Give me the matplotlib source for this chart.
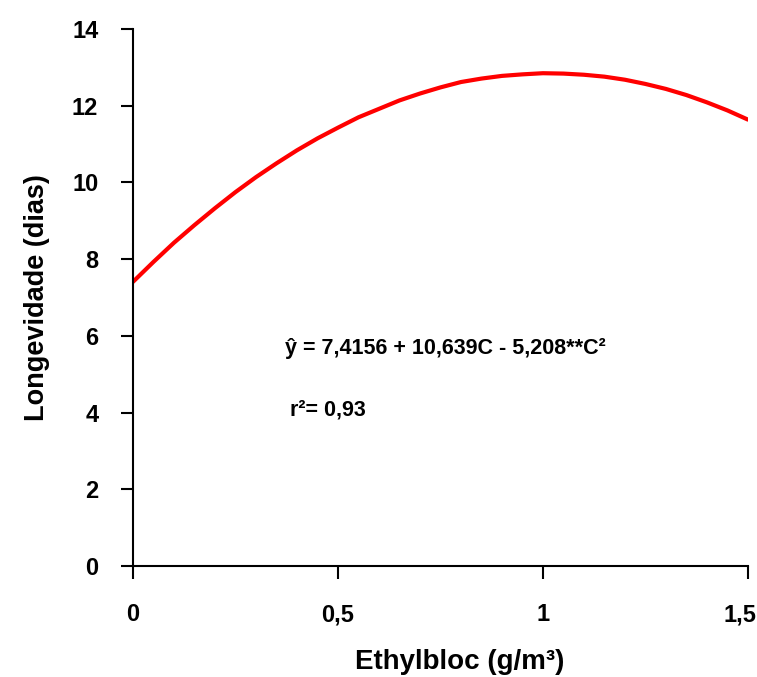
import matplotlib.pyplot as plt
import matplotlib.transforms as mtransforms

# valores
dose = [0, 0.05, 0.1, 0.15, 0.2, 0.25, 0.3, 0.35, 0.4, 0.45, 0.5, 0.55, 0.6, 0.65,
        0.7, 0.75, 0.8, 0.85, 0.9, 0.95, 1.0, 1.05, 1.1, 1.15, 1.2, 1.25, 1.3,
        1.35, 1.4, 1.45, 1.5]
longevidade = [7.41, 7.93, 8.43, 8.89, 9.33, 9.75, 10.14, 10.50, 10.84, 11.15, 11.43,
               11.70, 11.92, 12.14, 12.32, 12.48, 12.62, 12.71, 12.78, 12.82, 12.85,
               12.84, 12.81, 12.76, 12.68, 12.57, 12.44, 12.28, 12.09, 11.88, 11.64]
xticks = [0, 0.5, 1, 1.5]
xticklabels = ['0', '0,5', '1', '1,5']
yticks = [0, 2, 4, 6, 8, 10, 12, 14]

plt.rcParams['font.family'] = ['Liberation Sans', 'DejaVu Sans']
plt.rcParams['font.weight'] = 'bold'

fig = plt.figure(figsize=(7.57, 6.77), dpi=100)
ax = fig.add_axes([0.1757, 0.164, 0.8123, 0.793])

ax.plot(dose, longevidade, color='#ff0000', linewidth=3, solid_capstyle='round')

ax.set_xlim(0, 1.5)
ax.set_ylim(0, 14)
ax.set_xticks(xticks)
ax.set_xticklabels(xticklabels)
ax.set_yticks(yticks)

for s in ['top', 'right']:
    ax.spines[s].set_visible(False)
for s in ['left', 'bottom']:
    ax.spines[s].set_linewidth(1.5)

ax.tick_params(axis='both', direction='out', length=9, width=1.5, labelsize=17)
ax.tick_params(axis='y', pad=16)
ax.tick_params(axis='x', pad=18)
for lab in ax.get_xticklabels() + ax.get_yticklabels():
    lab.set_fontweight('bold')

# o último rótulo fica encostado na borda
last = ax.get_xticklabels()[-1]
last.set_transform(last.get_transform() + mtransforms.ScaledTranslation(-8 / 100, 0, fig.dpi_scale_trans))

ax.set_xlabel('Ethylbloc (g/m³)', fontsize=20, fontweight='bold', labelpad=10)
ax.xaxis.set_label_coords(0.532, -0.155)
ax.set_ylabel('Longevidade (dias)', fontsize=19.5, fontweight='bold', labelpad=16)

ax.text(0.37, 5.68, 'ŷ = 7,4156 + 10,639C - 5,208**C²', fontsize=15.5,
        fontweight='bold', va='center', ha='left')
ax.text(0.383, 4.07, 'r²= 0,93', fontsize=15.5, fontweight='bold',
        va='center', ha='left')

fig.savefig('out.png', dpi=100)
